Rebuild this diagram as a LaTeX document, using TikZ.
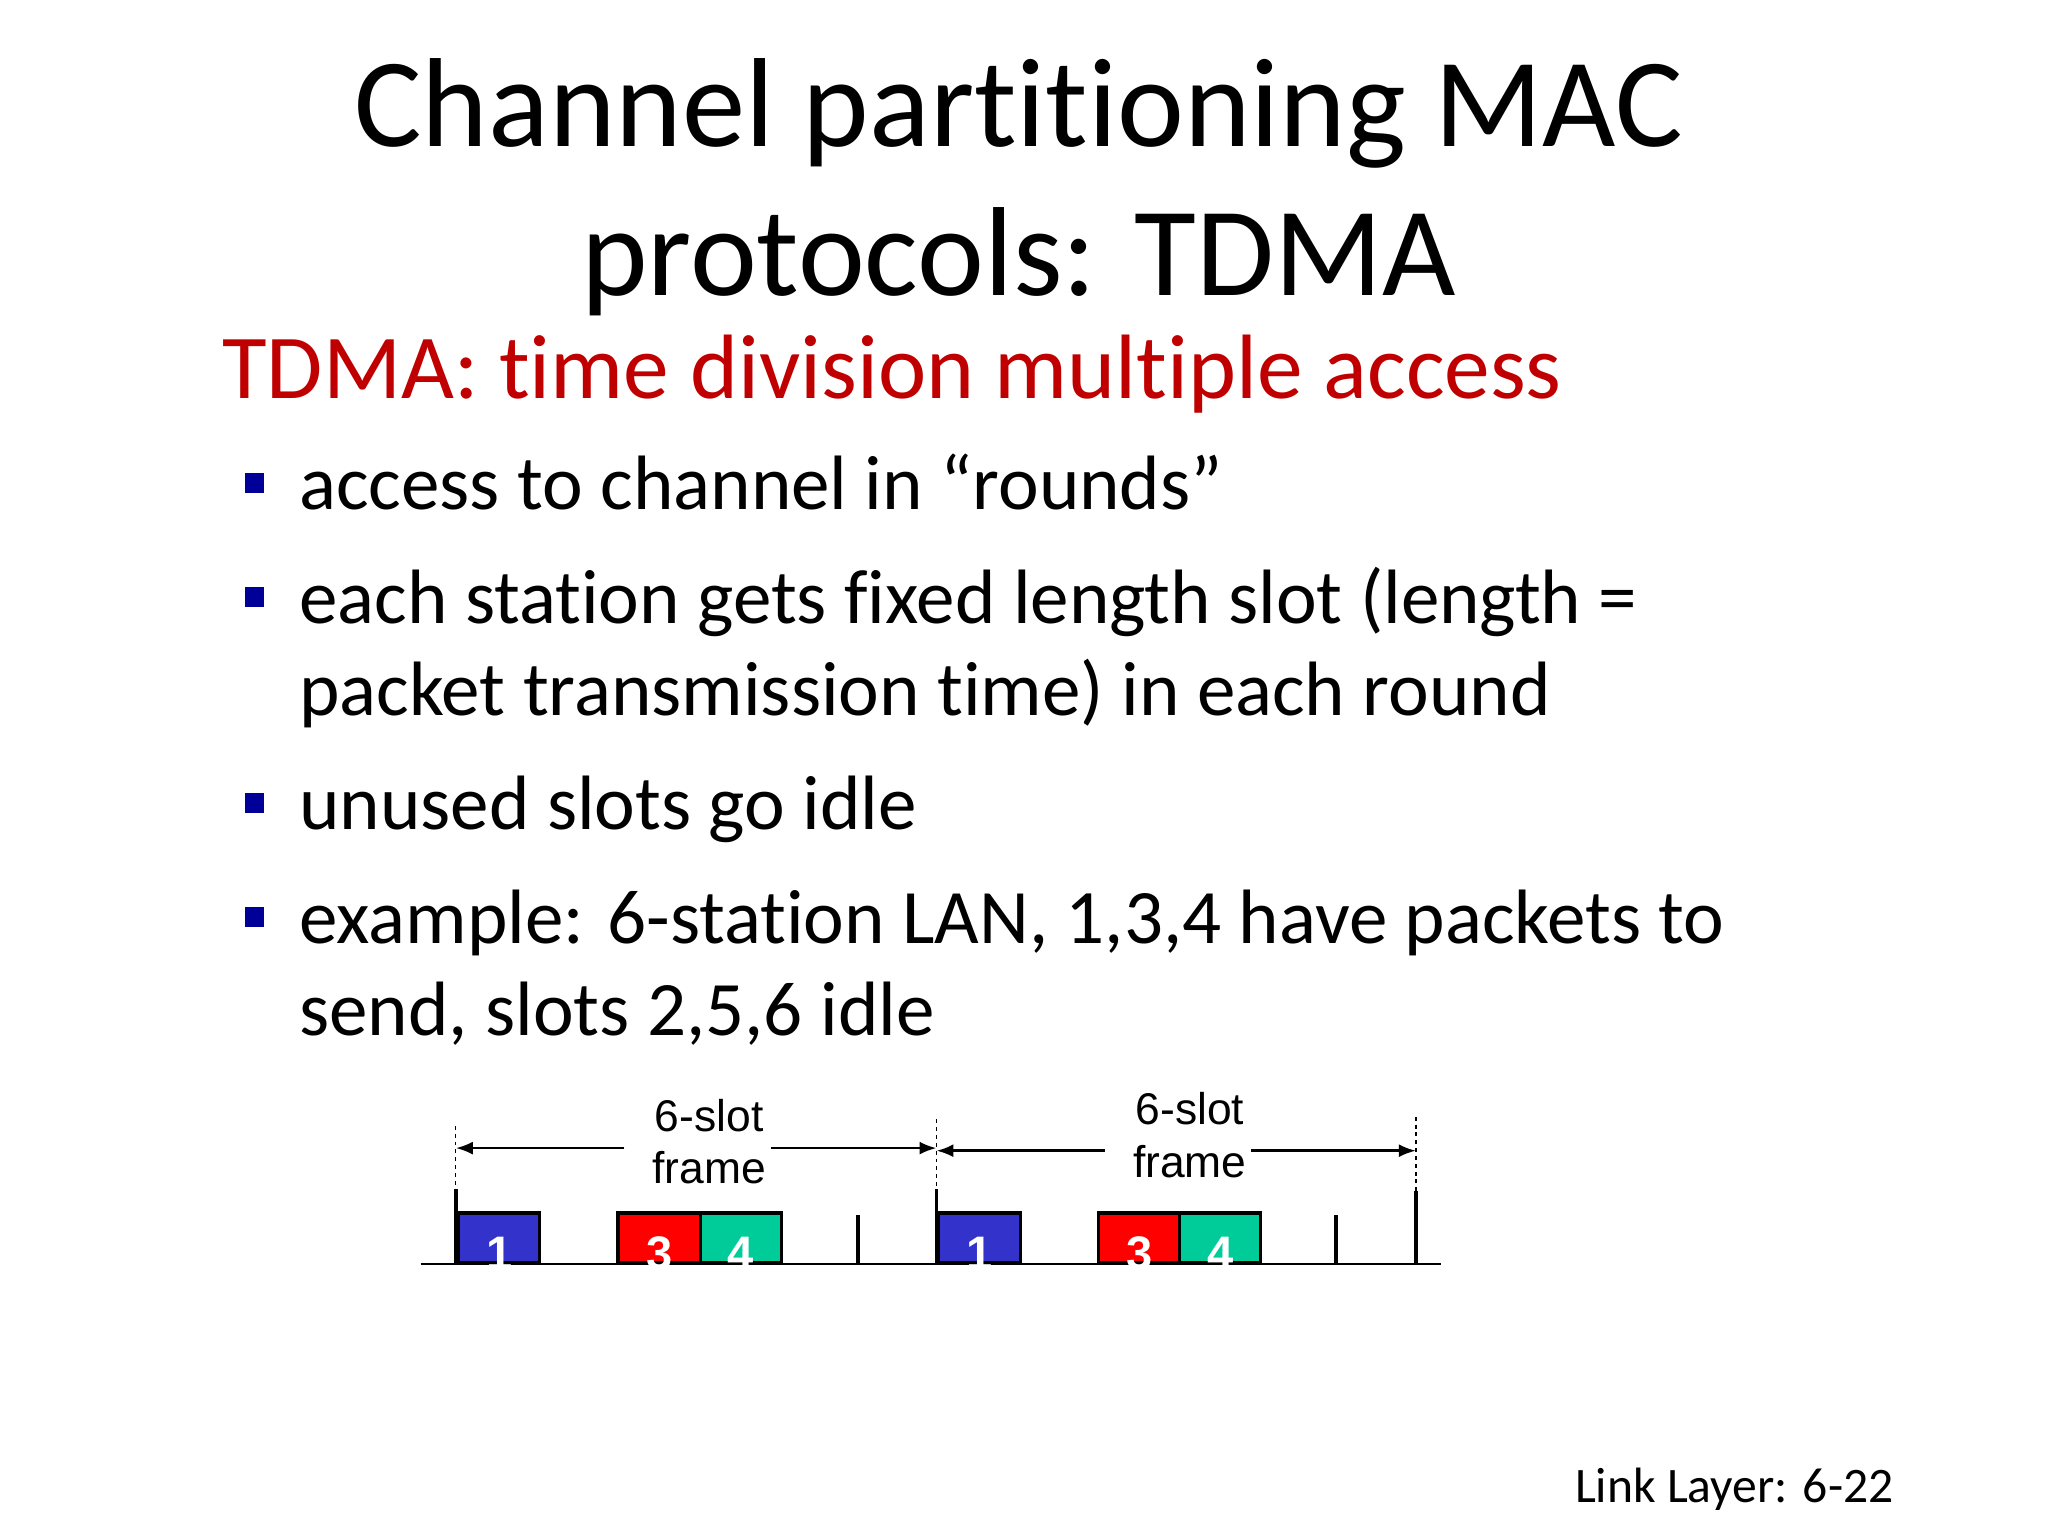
\documentclass[tikz,border=0pt]{standalone}
\usepackage{fontspec}
\setmainfont[Ligatures=NoCommon]{Carlito}
\newfontfamily\arialf{Liberation Sans}
\definecolor{tred}{RGB}{192,0,0}
\definecolor{bnavy}{RGB}{0,0,153}
\definecolor{sblue}{RGB}{51,51,204}
\definecolor{sred}{RGB}{255,0,0}
\definecolor{sgreen}{RGB}{0,204,153}
\begin{document}
\begin{tikzpicture}[x=1pt,y=-1pt,
  body/.style={anchor=base west,inner sep=0,font=\fontsize{59}{60}\selectfont},
  bul/.style={fill=bnavy,minimum size=15,inner sep=0},
  slot/.style={draw=black,line width=2.5,minimum height=38,inner sep=0,text=white,font=\arialf\bfseries\fontsize{36}{36}\selectfont},
  num/.style={anchor=base,inner sep=0,text=white,font=\arialf\bfseries\fontsize{36}{36}\selectfont},
  tick/.style={line width=3},
  dim/.style={-{Latex[length=13,width=10]},line width=2},
  lab/.style={font=\arialf\fontsize{34}{40}\selectfont,align=center,inner sep=0}]
\usetikzlibrary{arrows.meta}
\useasboundingbox (0,0) rectangle (1568,1176);
\node[anchor=base,inner sep=0,font=\fontsize{97}{110}\selectfont] (t1) at (780,112) {Channel partitioning MAC};
\node[anchor=base,inner sep=0,font=\fontsize{97}{110}\selectfont] (t2) at (780,226) {protocols: TDMA};
\node[anchor=base west,inner sep=0,text=tred,font=\fontsize{70}{70}\selectfont] (sub) at (170,305) {TDMA: time division multiple access};
\node[bul] (b1) at (195,370) {};
\node[body] (l1) at (229,390) {access to channel in “rounds”};
\node[bul] (b2) at (195,457) {};
\node[body] (l2) at (229,477) {each station gets fixed length slot (length =};
\node[body] (l2b) at (229,548) {packet transmission time) in each round};
\node[bul] (b3) at (195,615) {};
\node[body] (l3) at (229,635) {unused slots go idle};
\node[bul] (b4) at (195,702) {};
\node[body] (l4) at (229,722) {example: 6-station LAN, 1,3,4 have packets to};
\node[body] (l4b) at (229,793) {send, slots 2,5,6 idle};
% timeline
\coordinate (A) at (322,968); \coordinate (B) at (1103,968);
\draw[line width=1.5] (A) -- (B);
\node[slot,fill=sblue,minimum width=62,anchor=south west] (s1) at (350,968) {};
\node[slot,fill=sred,minimum width=63,anchor=south west] (s3) at (472,968) {};
\node[slot,fill=sgreen,minimum width=62,anchor=south west] (s4) at (535,968) {};
\node[slot,fill=sblue,minimum width=63,anchor=south west] (s1b) at (717,968) {};
\node[slot,fill=sred,minimum width=62,anchor=south west] (s3b) at (840,968) {};
\node[slot,fill=sgreen,minimum width=62,anchor=south west] (s4b) at (902,968) {};
\foreach \s/\n in {s1/1,s3/3,s4/4,s1b/1,s3b/3,s4b/4}
  \node[num] (n\s) at ([yshift=-4]\s.south) {\n};
\coordinate (k1) at (349,968); \coordinate (k1t) at (349,910);
\coordinate (k2) at (717,968); \coordinate (k2t) at (717,910);
\coordinate (k3) at (1084,968); \coordinate (k3t) at (1084,912);
\coordinate (k4) at (657,968); \coordinate (k4t) at (657,930);
\coordinate (k5) at (1023,968); \coordinate (k5t) at (1023,930);
\foreach \a/\b in {k1/k1t,k2/k2t,k3/k3t,k4/k4t,k5/k5t} \draw[tick] (\a) -- (\b);
\coordinate (d1) at (349,862); \coordinate (d2) at (717,857); \coordinate (d3) at (1084,855);
\draw[dashed,line width=1] (d1) -- (k1t);
\draw[dashed,line width=1] (d2) -- (k2t);
\draw[dashed,line width=1] (d3) -- (k3t);
\node[lab] (f1) at (543,874) {6-slot\\frame};
\node[lab] (f2) at (911,869) {6-slot\\frame};
\coordinate (a1l) at (349,879); \coordinate (a1r) at (717,879);
\coordinate (a2l) at (717,881); \coordinate (a2r) at (1084,881);
\draw[dim] (478,879) -- (a1l);
\draw[dim] (590,879) -- (a1r);
\draw[dim] (846,881) -- (a2l);
\draw[dim] (958,881) -- (a2r);
\node[anchor=base east,inner sep=0,font=\fontsize{38}{40}\selectfont] (foot) at (1450,1150) {Link Layer: 6-22};
\end{tikzpicture}
\end{document}
